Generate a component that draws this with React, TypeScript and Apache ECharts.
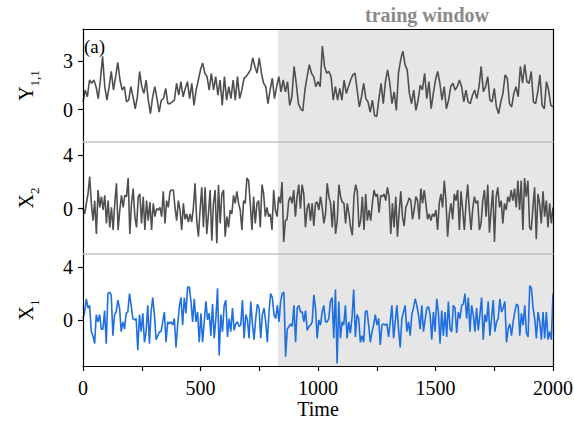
import React, { useEffect, useRef } from "react";
import * as echarts from "echarts";

// Time axis
const T_MIN = 0;
const T_MAX = 2000;
const SHADE_START = 830; // start of the training window
const xTickValues = [0, 250, 500, 750, 1000, 1250, 1500, 1750, 2000];
const xLabelValues = [0, 500, 1000, 1500, 2000];

// Y tick labels per panel
const y11Ticks = [0, 3];
const x2Ticks = [0, 4];
const x1Ticks = [0, 4];

// Y_{1,1} (samples evenly spaced over 0..2000)
const y11 = [
  0.48, 1.22, 0.8, 1.84, 1.64, 1.84, 1.43, 0.69, 1.84, 3.31,
  1.43, 0.59, 1.43, 2.37, 1.22, 2.05, 2.94, 1.84, 1.22, 1.43,
  0.48, 0.59, 1.43, 0.8, 0.06, 0.8, 2.37, 1.43, 1.01, 1.84,
  0.59, -0.25, 0.8, 1.43, 0.69, -0.15, 0.59, 0.69, 1.32, 0.38,
  0.38, 0.48, 0.59, 1.64, 0.9, 1.74, 0.8, 1.32, 1.74, 0.69,
  1.64, 0.27, 1.22, 1.84, 2.47, 2.89, 2.26, 2.05, 1.22, 2.26,
  1.22, 2.05, 0.9, 1.84, 0.27, 2.05, 0.59, 1.43, 0.69, 1.84,
  0.59, 2.05, 0.69, 1.22, 1.95, 2.05, 2.26, 2.47, 3.21, 2.68,
  2.26, 3.21, 2.26, 1.64, 1.43, 0.38, 1.22, 1.95, 0.69, 1.43,
  2.05, 1.11, 1.84, 1.11, 1.74, 0.27, 0.8, 2.68, 1.64, 0.38,
  0.06, -0.08, 1.22, 2.05, 2.79, 2.26, 2.05, 1.43, 1.74, 1.43,
  3.94, 2.68, 2.26, 2.37, 2.05, 0.59, 1.43, 0.59, 1.32, 0.59,
  1.84, 1.01, 1.43, 1.84, 2.16, 2.26, 1.22, 0.17, 0.8, 1.64,
  0.69, 0.48, -0.15, 0.59, -0.36, -0.42, 0.69, 1.64, 0.38, 1.74,
  2.47, 1.64, 0.38, 1.11, -0.04, 2.26, 3.1, 3.63, 2.79, 2.47,
  1.01, 0.38, 1.22, -0.04, 0.59, 1.53, 1.22, 2.26, 0.69, 1.74,
  0.06, 1.01, 1.84, 2.37, 1.64, 0.59, 1.43, 0.06, 0.59, 1.43,
  1.64, 1.22, 1.43, 1.84, 1.43, 0.48, 1.22, 0.48, 0.38, 0.9,
  1.22, 0.69, 1.43, 2.68, 1.11, 1.43, 2.05, 0.59, 0.48, 1.32,
  0.17, -0.25, 0.48, 1.01, 2.16, 1.95, 0.38, 0.17, 1.01, 1.43,
  0.8, 2.68, 1.64, 2.79, 1.74, 1.64, 2.37, 0.48, 0.38, 1.11,
  2.16, 0.27, 0.06, 1.74, 1.22, 0.27, 0.17,
];

// X_2
const x2 = [
  0, -0.4, 0.4, 1.1, 2.4, 0.4, -0.9, 0.6, -1.9, 1.4,
  0.1, 0.9, -0.1, 1.0, -1.1, 0.6, -1.4, 0.1, -1.6, 0.4,
  1.9, -1.6, -0.1, 1.0, 0.1, 1.0, 0.9, 2.3, -1.9, 0.4,
  1.5, -0.6, -1.4, 0.9, 1.1, -1.1, 0.9, -1.6, 0.6, -0.9,
  0.5, -1.6, 0.4, -0.6, 0, -0.1, 0.1, -0.6, 1.3, -1.1,
  0.6, 0.1, 1.3, 1.4, 1.4, 0.1, -0.9, 0.6, -0.1, -1.6,
  0.4, -0.8, -0.4, -1.0, -0.4, -1.0, 0.1, 1.9, -0.9, -2.1,
  -0.1, 1.6, -1.4, 1.6, -1.9, -0.4, 1.4, -2.4, 0.4, 1.4,
  -2.6, 1.8, -1.1, 1.1, 1.4, -2.1, -0.6, -1.4, -0.1, -0.4,
  1.0, 0.4, 1.3, 0.4, -0.1, -1.6, 0.6, 0.4, 2.3, 2.1,
  0.4, -1.6, 0.9, -1.1, 0.4, 0.6, -1.4, 1.8, 1.1, -0.6,
  0.1, -0.6, -0.4, -1.6, 1.4, -0.1, -0.6, 0.9, 0.4, 2.0,
  -2.5, -0.9, -0.8, 0.6, 0.9, 0.4, 1.4, -0.6, 0.9, 1.8,
  0, 1.8, 1.1, -1.4, 0, 0.4, -0.9, 0.4, -1.3, 0.4,
  0.5,
  -0.1, 0.9, 0.1, -1.1, -0.4, 1.9, 0.9, 0.4, -1.4, 0.6,
  -1.9, -0.9, 1.8, 0.9, 0.5, 0.4, -1.1, 0.4, -0.4, -1.4,
  -2.0, 0.9, 1.8, 1.3, -1.4, -0.9, 0.9, -1.6, 1.1, -0.9,
  -0.1, -0.9, 0.4, 1.4, 0.9, 1.1, -0.3, 1.0, 0.9, 1.1,
  0.6, 1.6, 0.9, -1.9, 0.4, -1.4, 0.9, -2.1, -0.3, 1.3,
  -0.6, -1.3, 0.1, 0.4, 0.8, 0.6, -0.8, -0.1, 0.9, 0.6,
  -0.8, 1.5, 0.4, 1.4, 0.4, -0.8, -0.4, -0.9, -0.4, -0.6,
  -0.1, -1.6, 0.4, 1.1, 0.1, 2.1, 0.6, -2.1, -0.4, 0.4,
  -0.8, 1.1, 0.6, 1.4, -1.6, 1.3, -0.1, -1.6, 0.4, 1.8,
  -0.1, -1.6, 0, 0.9, 0.4, 0.6, -1.6, -1.1, 0.6, 1.4,
  -0.6, 1.8, -1.8, -0.1, 1.4, -2.5, 0.9, 1.6, 0.1, 0.6,
  -1.1, 0.4, -0.1, 0.9, 0.5, 1.4, 0.6, 1.5, 0.1, 2.1,
  -0.1, 2.1, -1.6, 2.3, 0.9, 2.1, -1.4, -1.6, 0.1, 1.6,
  -2.3, 1.1, 0.4, -1.1, 1.3, -0.6, 0.6, -1.4, 0.4, -1.1,
  0.1,
];

// X_1
const x1 = [
  0.1, 0.6, 1.6, 0.9, 1.1, -0.9, -1.2, -1.8, 0.4, -0.15,
  0.4, -0.7, -0.7, 0.7, -1.8, 2.0, 2.1, 1.9, -1.2, 0.4,
  0.6, 1.5, 0.9, -0.9, -0.15, -0.7, 0.5, 0.6, 2.0, 1.1,
  0.1, 0, 0.1, -2.3, 0.4, -0.9, 0.5, -1.7, -0.9, 1.1,
  -1.8, 0.6, 1.7, 0.4, -1.5, -1.2, -0.9, -0.9, -0.15, 0.6,
  -1.7, -0.15, -0.3, -0.15, -0.4, 0.1, -2.1, -0.4, 1.0, 1.7,
  -0.4, 1.7, 0.5, 2.5, 2.5, 1.4, -0.15, 1.6, -0.15, 0.6,
  -1.7, 0.5, -1.7, -0.15, 1.4, 0, 0.5, -1.2, 1.2, -1.4,
  0.1, 2.4, -2.7, 0.4, -0.9, 1.1, 1.5, -1.3, 0.1, -0.9,
  0.9, -0.8, -0.3, -0.15, -0.5, -0.4, 1.5, -1.4, 0.4, 0,
  -1.4, 1.4, -0.3, -1.5, 0.1, 1.2, 0.9, -1.4, 0.4, 0.9,
  -0.15, -1.7, 0.6, 2.0, 1.7, 0.4, 0.1, 1.1, -0.15, 1.4,
  2.0, 2.1, -2.8, -0.7, -0.5, -0.3, -0.5, 1.1, -1.7, 0.9,
  1.1, 0.6, 0.6, -0.15, 0.7, -0.8, -0.5, -0.4, -0.15, 1.9,
  0.9, -1.4, 0,
  -0.4, 0.6, 1.1, -0.15, -0.15, 0.1, 1.4, 1.7, -1.4, 2.3,
  -3.3, 1.4, -1.4, -0.15, -0.4, 1.1, -1.4, -0.15, -1.0, 0.2,
  2.3, -1.3, 0.4, 0.1, -1.7, -1.2, -1.7, 0.6, 0.7, -0.4,
  -1.7, -0.9, -0.4, 0.4, -0.4, 0.1, -1.9, -0.4, -0.3, -0.4,
  -0.3, -1.3, -0.15, 1.1, -1.4, -0.15, 1.1, -0.7, -2.1, 0.1,
  0.6, 1.1, -0.9, -0.15, -1.2, 0.4, 0.9, 1.6, 1.1, 0.4,
  -0.7, 1.1, -0.9, 0, 0.9, 1.0, 0.4, -1.5, 0.6, -0.9,
  1.6, 0.6, -1.8, 0.7, -1.2, 0.6, -1.3, 1.4, -0.7, -0.9,
  1.1, 0.9, -1.0, 0.6, 0.1, 1.1, 1.2, 2.0, 0.1, 1.7,
  -0.9, 1.1, 0.4, -0.9, 0.9, -0.8, 0.4, 1.7, -1.5, 0.4,
  -0.15, 1.4, -1.2, 0.1, 1.5, -0.9, -0.15, 0.1, 1.6, 0.6,
  0.9, 1.4, -1.7, -0.7, -0.3, -1.2, -0.15, 0.6, 1.2, 1.1,
  -1.2, 0.5, -0.4, 1.1, -1.0, -1.3, 2.6, 2.4, 0.9, 0.1,
  -1.4, 0.6, -0.15, -1.5, 0.6, -1.4, 0.6, -1.5, -0.9, -1.5,
  2.0,
];

const FONT = "Liberation Serif";
const GRAY_LINE = "#4f4f4f";
const BLUE_LINE = "#1f6fe0";
const SHADE = "#e6e6e6";
const SEP = "#c2c2c2";

function toPairs(vals: number[]): [number, number][] {
  const step = (T_MAX - T_MIN) / (vals.length - 1);
  return vals.map((v, i) => [T_MIN + i * step, v]);
}

const plainNum = (v: number) => String(v);

export default function App() {
  const ref = useRef<HTMLDivElement>(null);
  useEffect(() => {
    if (!ref.current) return;
    const chart = echarts.init(ref.current, undefined, { renderer: "svg" });

    const gridBase = { left: 83, right: 21, containLabel: false, outerBoundsMode: "none" };
    const grids = [
      { ...gridBase, top: 29, height: 113 },
      { ...gridBase, top: 142, height: 112 },
      { ...gridBase, top: 254, height: 112 },
    ];

    const hiddenX = (gridIndex: number, position: string, color: string, width: number) => ({
      type: "value",
      gridIndex,
      position,
      min: T_MIN,
      max: T_MAX,
      z: 5,
      axisLine: { show: true, onZero: false, lineStyle: { color, width } },
      axisTick: { show: false },
      axisLabel: { show: false },
      splitLine: { show: false },
    });

    const leftY = (gridIndex: number, min: number, max: number, ticks: number[], name: string) => ({
      type: "value",
      gridIndex,
      position: "left",
      min,
      max,
      z: 5,
      name,
      nameLocation: "middle",
      nameRotate: 90,
      nameGap: 47,
      nameTextStyle: {
        rich: {
          a: { fontFamily: FONT, fontSize: 20, color: "#000", lineHeight: 24, verticalAlign: "bottom" },
          s: { fontFamily: FONT, fontSize: 13, color: "#000", lineHeight: 24, verticalAlign: "bottom", padding: [0, 0, -5, 0] },
        },
      },
      axisLine: { show: true, onZero: false, lineStyle: { color: "#000", width: 1.2 } },
      axisTick: { show: true, inside: false, length: 5, customValues: ticks, lineStyle: { color: "#000", width: 1.2 } },
      axisLabel: {
        show: true,
        customValues: ticks,
        margin: 10,
        fontFamily: FONT,
        fontSize: 20,
        color: "#000",
        formatter: plainNum,
      },
      splitLine: { show: false },
    });

    const rightY = (gridIndex: number, min: number, max: number) => ({
      type: "value",
      gridIndex,
      position: "right",
      min,
      max,
      z: 5,
      axisLine: { show: true, onZero: false, lineStyle: { color: "#000", width: 1.2 } },
      axisTick: { show: false },
      axisLabel: { show: false },
      splitLine: { show: false },
    });

    const shade = {
      silent: true,
      itemStyle: { color: SHADE },
      data: [[{ xAxis: SHADE_START }, { xAxis: T_MAX }]],
    };

    const option = {
      animation: false,
      backgroundColor: "#fff",
      textStyle: { fontFamily: FONT },
      grid: grids,
      xAxis: [
        hiddenX(0, "bottom", SEP, 1.5),
        hiddenX(0, "top", "#000", 1.2),
        hiddenX(1, "bottom", SEP, 1.5),
        {
          type: "value",
          gridIndex: 2,
          position: "bottom",
          min: T_MIN,
          max: T_MAX,
          z: 5,
          name: "Time",
          nameLocation: "middle",
          nameGap: 32,
          nameTextStyle: { fontFamily: FONT, fontSize: 20, color: "#000" },
          axisLine: { show: true, onZero: false, lineStyle: { color: "#000", width: 1.2 } },
          axisTick: { show: true, inside: false, length: 5, customValues: xTickValues, lineStyle: { color: "#000", width: 1.2 } },
          axisLabel: {
            show: true,
            customValues: xLabelValues,
            margin: 12,
            fontFamily: FONT,
            fontSize: 20,
            color: "#000",
            formatter: plainNum,
          },
          splitLine: { show: false },
        },
      ],
      yAxis: [
        leftY(0, -2, 5, y11Ticks, "{a|Y}{s|1,1}"),
        rightY(0, -2, 5),
        leftY(1, -3.4, 5, x2Ticks, "{a|X}{s|2}"),
        rightY(1, -3.4, 5),
        leftY(2, -3.5, 5, x1Ticks, "{a|X}{s|1}"),
        rightY(2, -3.5, 5),
      ],
      graphic: [
        {
          type: "text",
          x: 427,
          y: 15,
          style: {
            text: "traing window",
            fontFamily: FONT,
            fontSize: 20,
            fontWeight: "bold",
            fill: "#8a8a8a",
            align: "center",
            verticalAlign: "middle",
          },
        },
        {
          type: "text",
          x: 84,
          y: 46,
          z: 10,
          style: {
            text: "(a)",
            fontFamily: FONT,
            fontSize: 19,
            fill: "#000",
            align: "left",
            verticalAlign: "middle",
          },
        },
      ],
      series: [
        {
          type: "line",
          xAxisIndex: 0,
          yAxisIndex: 0,
          data: toPairs(y11),
          showSymbol: false,
          symbol: "none",
          lineStyle: { color: GRAY_LINE, width: 1.6 },
          markArea: shade,
        },
        {
          type: "line",
          xAxisIndex: 2,
          yAxisIndex: 2,
          data: toPairs(x2),
          showSymbol: false,
          symbol: "none",
          lineStyle: { color: GRAY_LINE, width: 1.6 },
          markArea: shade,
        },
        {
          type: "line",
          xAxisIndex: 3,
          yAxisIndex: 4,
          data: toPairs(x1),
          showSymbol: false,
          symbol: "none",
          lineStyle: { color: BLUE_LINE, width: 1.6 },
          markArea: shade,
        },
      ],
    };

    chart.setOption(option as any);
    return () => chart.dispose();
  }, []);

  return <div ref={ref} style={{ width: 574, height: 423, position: "absolute", left: 0, top: 0 }} />;
}
